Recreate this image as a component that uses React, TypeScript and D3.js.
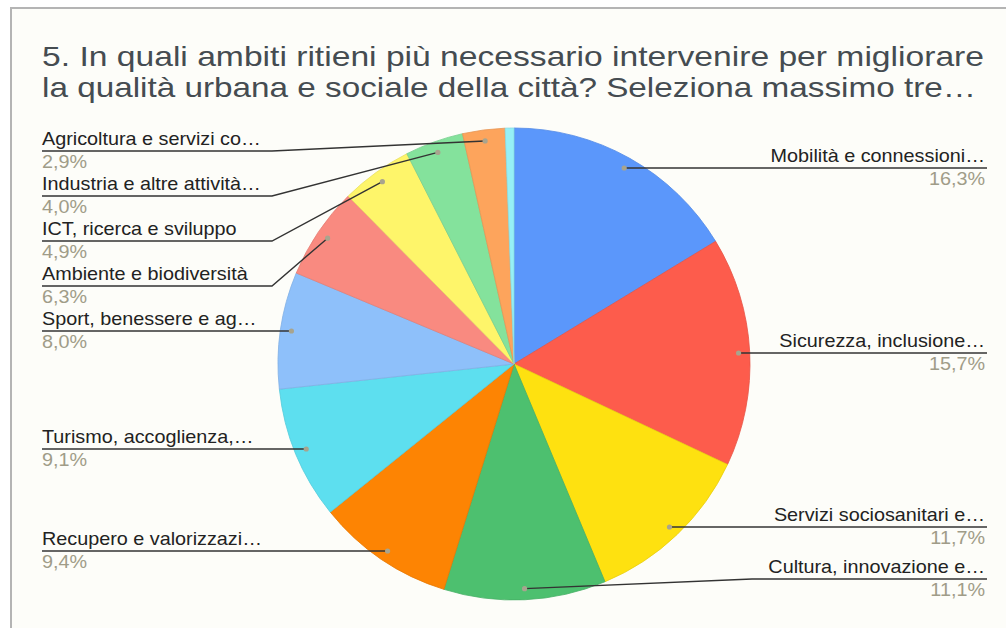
import React, { useEffect, useRef } from "react";
import * as d3 from "d3";

const categories = [
  "Mobilità e connessioni…",
  "Sicurezza, inclusione…",
  "Servizi sociosanitari e…",
  "Cultura, innovazione e…",
  "Recupero e valorizzazi…",
  "Turismo, accoglienza,…",
  "Sport, benessere e ag…",
  "Ambiente e biodiversità",
  "ICT, ricerca e sviluppo",
  "Industria e altre attività…",
  "Agricoltura e servizi co…",
  "Altro",
];
const values = [16.3, 15.7, 11.7, 11.1, 9.4, 9.1, 8.0, 6.3, 4.9, 4.0, 2.9, 0.6];
const pctLabels = ["16,3%", "15,7%", "11,7%", "11,1%", "9,4%", "9,1%", "8,0%", "6,3%", "4,9%", "4,0%", "2,9%", ""];
const colors = [
  "#5b97fb", "#fd5c4c", "#fee110", "#4dc06f", "#fd8403", "#5ddfef",
  "#8ec0fa", "#f98a80", "#fef56a", "#84e29c", "#fda45c", "#96f0f6",
];
// label slot (text baseline) for each labelled slice
const labelY = [162, 347, 521, 573, 545, 443, 325, 280, 235, 190, 145];
const titleLines = [
  "5. In quali ambiti ritieni più necessario intervenire per migliorare",
  "la qualità urbana e sociale della città? Seleziona massimo tre…",
];

export default function App() {
  const ref = useRef<SVGSVGElement>(null);

  useEffect(() => {
    const svg = d3.select(ref.current);
    svg.selectAll("*").remove();

    const W = 1006, H = 628;
    const cx = 514, cy = 364, r = 236;

    svg.append("rect").attr("width", W).attr("height", H).attr("fill", "#ffffff");
    svg.append("rect").attr("x", 11).attr("y", 8).attr("width", W - 11).attr("height", H - 8)
      .attr("fill", "#fdfdf9");
    svg.append("line").attr("x1", 10).attr("x2", W).attr("y1", 8).attr("y2", 8)
      .attr("stroke", "#b4b4b4").attr("stroke-width", 2);
    svg.append("line").attr("x1", 11).attr("x2", 11).attr("y1", 7).attr("y2", H)
      .attr("stroke", "#b4b4b4").attr("stroke-width", 2);

    // title
    const titleG = svg.append("g").attr("font-family", "Arial, 'Liberation Sans', sans-serif")
      .attr("fill", "#454c51").attr("font-size", 28);
    titleLines.forEach((t, i) => {
      titleG.append("text").attr("x", 42).attr("y", 66 + i * 31)
        .attr("textLength", i === 0 ? 942 : 934)
        .attr("lengthAdjust", "spacingAndGlyphs")
        .text(t);
    });

    const data = values.map((v, i) => ({ name: categories[i], value: v, pct: pctLabels[i], color: colors[i] }));
    const pie = d3.pie<any>().value(d => d.value).sort(null);
    const arcs = pie(data);
    const arc = d3.arc<any>().innerRadius(0).outerRadius(r);

    const g = svg.append("g").attr("transform", `translate(${cx},${cy})`);
    g.selectAll("path").data(arcs).enter().append("path")
      .attr("d", arc)
      .attr("fill", d => d.data.color)
      .attr("stroke", d => d3.color(d.data.color)!.darker(0.25).toString())
      .attr("stroke-width", 0.8);

    // labels with leader lines
    const lab = svg.append("g").attr("font-family", "Arial, 'Liberation Sans', sans-serif");
    arcs.forEach((a, i) => {
      if (i >= labelY.length) return;
      const mid = (a.startAngle + a.endAngle) / 2;
      const dr = r * 0.953;
      const dx = cx + Math.sin(mid) * dr;
      let dy = cy - Math.cos(mid) * dr;
      const right = Math.sin(mid) > 0;
      const ty = labelY[i];
      const ly = ty + 6;
      const edge = right ? 987 : 42;
      let pts: [number, number][];
      if (Math.abs(dy - ly) < 3) {
        dy = ly;
        pts = [[dx, dy], [edge, ly]];
      } else {
        pts = [[dx, dy], [right ? 752 : 272, ly], [edge, ly]];
      }
      lab.append("path")
        .attr("d", d3.line()(pts))
        .attr("fill", "none").attr("stroke", "#333").attr("stroke-width", 1.4);
      lab.append("circle").attr("cx", dx).attr("cy", dy).attr("r", 2.6)
        .attr("fill", "#a8a48e");
      const x = right ? 985 : 42;
      const anchor = right ? "end" : "start";
      lab.append("text").attr("transform", `translate(${x},${ty}) scale(1.1,1)`)
        .attr("text-anchor", anchor)
        .attr("font-size", 18).attr("fill", "#222").text(a.data.name);
      lab.append("text").attr("transform", `translate(${x},${ty + 23}) scale(1.1,1)`)
        .attr("text-anchor", anchor)
        .attr("font-size", 18).attr("fill", "#a09c88").text(a.data.pct);
    });
  }, []);

  return <svg ref={ref} width={1006} height={628} style={{ position: "absolute", left: 0, top: 0 }} />;
}
